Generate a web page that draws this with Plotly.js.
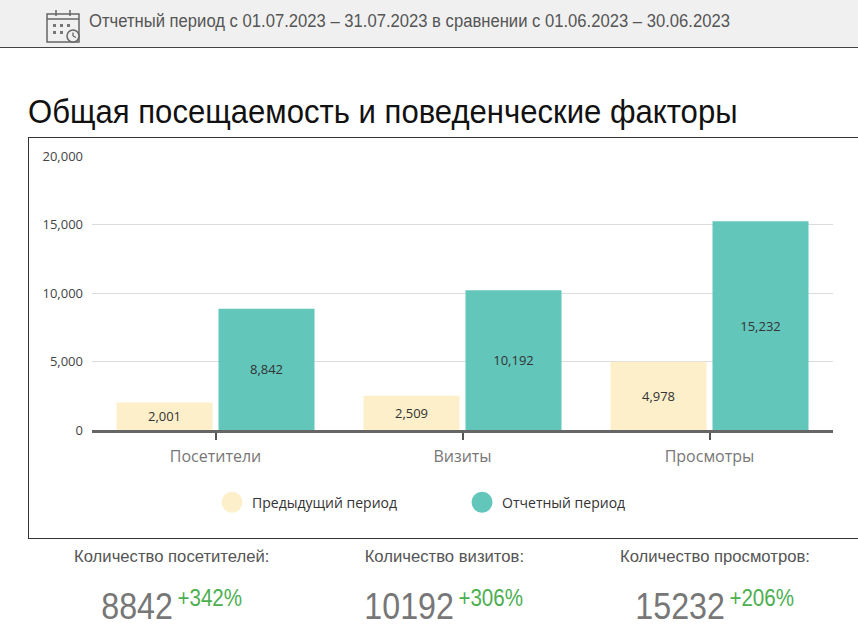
<!DOCTYPE html>
<html>
<head>
<meta charset="utf-8">
<script src="https://cdn.plot.ly/plotly-3.0.1.min.js"></script>
<style>
  html, body { margin:0; padding:0; width:858px; height:642px; overflow:hidden; background:#fff; }
  #hdr { position:absolute; left:0; top:0; width:858px; height:47px; background:#f0f0f0; border-bottom:1px solid #444; }
  #hdrtext { position:absolute; left:89px; top:11px; font-family:"Liberation Sans",sans-serif; font-size:18px; color:#555; white-space:nowrap; transform:scaleX(0.924); transform-origin:left center; }
  #icon { position:absolute; left:46px; top:10px; }
  #title { position:absolute; left:28px; top:92px; font-family:"Liberation Sans",sans-serif; font-size:34px; color:#111; white-space:nowrap; transform:scaleX(0.914); transform-origin:left center; }
  #box { position:absolute; left:28px; top:137px; width:840px; height:400px; border:1.5px solid #333; }
  #chart { width:840px; height:400px; }
  .col { position:absolute; top:547px; width:272px; text-align:center; font-family:"Liberation Sans",sans-serif; }
  .lab { font-size:17px; color:#555; display:inline-block; transform:scaleX(0.98); white-space:nowrap; }
  .valwrap { margin-top:18px; }
  .val { display:inline-block; white-space:nowrap; transform:scaleX(0.895); }
  .num { font-size:36px; color:#777; }
  .pct { font-size:23px; color:#4caf50; vertical-align:13px; margin-left:5px; }
</style>
</head>
<body>
<div id="hdr">
  <svg id="icon" width="35" height="34" viewBox="0 0 35 34">
    <rect x="1" y="4" width="32" height="28" fill="none" stroke="#666" stroke-width="1.5"/>
    <line x1="1" y1="9" x2="33" y2="9" stroke="#666" stroke-width="1.5"/>
    <line x1="10" y1="0" x2="10" y2="6" stroke="#666" stroke-width="1.5"/>
    <line x1="24" y1="0" x2="24" y2="6" stroke="#666" stroke-width="1.5"/>
    <rect x="7" y="14" width="3" height="3" fill="#777"/>
    <rect x="14" y="14" width="3" height="3" fill="#777"/>
    <rect x="21" y="14" width="3" height="3" fill="#777"/>
    <rect x="7" y="21" width="3" height="3" fill="#777"/>
    <rect x="14" y="21" width="3" height="3" fill="#777"/>
    <circle cx="27" cy="26" r="6" fill="#f0f0f0" stroke="#666" stroke-width="1.5"/>
    <line x1="27" y1="22.5" x2="27" y2="26" stroke="#666" stroke-width="1.3"/>
    <line x1="27" y1="26" x2="30" y2="27.5" stroke="#666" stroke-width="1.3"/>
  </svg>
  <div id="hdrtext">Отчетный период с 01.07.2023 – 31.07.2023 в сравнении с 01.06.2023 – 30.06.2023</div>
</div>
<div id="title">Общая посещаемость и поведенческие факторы</div>
<div id="box"><div id="chart"></div></div>
<div id="stats"></div>
<script>
const categories = ["Посетители", "Визиты", "Просмотры"];
const previousValues = [2001, 2509, 4978];
const currentValues = [8842, 10192, 15232];
const seriesNames = ["Предыдущий период", "Отчетный период"];
const statLabels = ["Количество посетителей:", "Количество визитов:", "Количество просмотров:"];
const yTickVals = [0, 5000, 10000, 15000, 20000];
const yTickText = ["0", "5,000", "10,000", "15,000", "20,000"];

const colPrev = "#fcefca";
const colCur = "#62c6bb";

const traces = [
  { type:"bar", x:categories, y:previousValues, name:seriesNames[0], showlegend:false,
    marker:{color:colPrev}, texttemplate:"%{y:,}", textposition:"inside", insidetextanchor:"middle",
    textfont:{color:"#333", size:13, family:"Open Sans"}, hoverinfo:"y" },
  { type:"bar", x:categories, y:currentValues, name:seriesNames[1], showlegend:false,
    marker:{color:colCur}, texttemplate:"%{y:,}", textposition:"inside", insidetextanchor:"middle",
    textfont:{color:"#333", size:13, family:"Open Sans"}, hoverinfo:"y" },
  { type:"scatter", mode:"markers", x:[null], y:[null], name:seriesNames[0],
    marker:{color:colPrev, size:16, symbol:"circle", line:{color:colPrev, width:5}} },
  { type:"scatter", mode:"markers", x:[null], y:[null], name:seriesNames[1],
    marker:{color:colCur, size:16, symbol:"circle", line:{color:colCur, width:5}} }
];

const layout = {
  width:840, height:400,
  margin:{l:63, r:36, t:18, b:108},
  paper_bgcolor:"#fff", plot_bgcolor:"#fff",
  font:{family:"Open Sans", size:13, color:"#444"},
  barmode:"group", bargap:0.174, bargroupgap:0.059,
  xaxis:{ type:"category", showline:true, linecolor:"#666", linewidth:2.5,
          ticks:"outside", ticklen:7, tickwidth:2, tickcolor:"#555",
          tickfont:{size:16, color:"#777"}, ticklabelstandoff:3, showgrid:false, fixedrange:true },
  yaxis:{ range:[0, 20000], tickvals:yTickVals, ticktext:yTickText,
          showgrid:true, gridcolor:"#dcdcdc", gridwidth:1, zeroline:false,
          tickfont:{size:13, color:"#444"}, ticks:"", ticklabelstandoff:8, fixedrange:true },
  showlegend:true,
  legend:{ orientation:"h", x:0.162, xanchor:"left", y:-0.265, yanchor:"middle",
           entrywidth:205, entrywidthmode:"pixels",
           font:{size:14, color:"#333"}, itemsizing:"trace" }
};

Plotly.newPlot("chart", traces, layout, {displayModeBar:false, staticPlot:true});

const centers = [172, 444, 715];
const stats = document.getElementById("stats");
categories.forEach((c, i) => {
  const pct = Math.round((currentValues[i] / previousValues[i] - 1) * 100);
  const d = document.createElement("div");
  d.className = "col";
  d.style.left = (centers[i] - 136) + "px";
  d.innerHTML = '<div class="lab">' + statLabels[i] + '</div>' +
    '<div class="valwrap"><div class="val"><span class="num">' + currentValues[i] + '</span><span class="pct">+' + pct + '%</span></div></div>';
  stats.appendChild(d);
});
</script>
</body>
</html>
